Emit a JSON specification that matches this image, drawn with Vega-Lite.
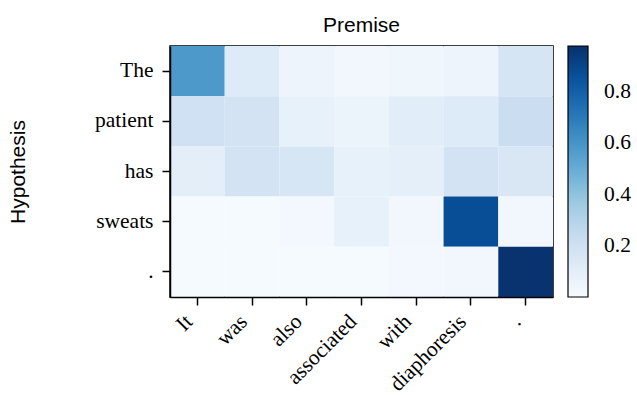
{
  "$schema": "https://vega.github.io/schema/vega-lite/v6.json",
  "width": 383,
  "height": 251,
  "autosize": {"type": "none"},
  "padding": {"left": 170, "top": 46, "right": 84, "bottom": 98},
  "background": "white",
  "config": {
    "view": {"stroke": "black", "strokeWidth": 1.5},
    "axis": {"grid": false},
    "legend": {"padding": 0, "labelFont": "Liberation Serif"}
  },
  "title": {"text": "Premise", "font": "Liberation Sans", "fontSize": 21, "fontWeight": "normal", "color": "black", "offset": 10},
  "data": {
    "values": [
      {"h": "The", "p": "It", "v": 0.58}, {"h": "The", "p": "was", "v": 0.13}, {"h": "The", "p": "also", "v": 0.05}, {"h": "The", "p": "associated", "v": 0.03}, {"h": "The", "p": "with", "v": 0.04}, {"h": "The", "p": "diaphoresis", "v": 0.05}, {"h": "The", "p": ".", "v": 0.17},
      {"h": "patient", "p": "It", "v": 0.2}, {"h": "patient", "p": "was", "v": 0.18}, {"h": "patient", "p": "also", "v": 0.08}, {"h": "patient", "p": "associated", "v": 0.06}, {"h": "patient", "p": "with", "v": 0.11}, {"h": "patient", "p": "diaphoresis", "v": 0.13}, {"h": "patient", "p": ".", "v": 0.22},
      {"h": "has", "p": "It", "v": 0.1}, {"h": "has", "p": "was", "v": 0.18}, {"h": "has", "p": "also", "v": 0.16}, {"h": "has", "p": "associated", "v": 0.08}, {"h": "has", "p": "with", "v": 0.09}, {"h": "has", "p": "diaphoresis", "v": 0.18}, {"h": "has", "p": ".", "v": 0.15},
      {"h": "sweats", "p": "It", "v": 0.01}, {"h": "sweats", "p": "was", "v": 0.01}, {"h": "sweats", "p": "also", "v": 0.02}, {"h": "sweats", "p": "associated", "v": 0.08}, {"h": "sweats", "p": "with", "v": 0.03}, {"h": "sweats", "p": "diaphoresis", "v": 0.87}, {"h": "sweats", "p": ".", "v": 0.03},
      {"h": ".", "p": "It", "v": 0.01}, {"h": ".", "p": "was", "v": 0.01}, {"h": ".", "p": "also", "v": 0.01}, {"h": ".", "p": "associated", "v": 0.01}, {"h": ".", "p": "with", "v": 0.02}, {"h": ".", "p": "diaphoresis", "v": 0.03}, {"h": ".", "p": ".", "v": 0.97}
    ]
  },
  "mark": {"type": "rect"},
  "encoding": {
    "x": {
      "field": "p", "type": "nominal",
      "sort": ["It", "was", "also", "associated", "with", "diaphoresis", "."],
      "scale": {"paddingInner": 0, "paddingOuter": 0},
      "axis": {
        "title": null, "labelAngle": -45, "labelAlign": "right", "labelBaseline": "bottom",
        "labelFont": "Liberation Serif", "labelFontSize": 21.5, "labelColor": "black",
        "tickColor": "black", "tickWidth": 1.5, "tickSize": 8, "labelPadding": 21,
        "domainColor": "black", "domainWidth": 1.5
      }
    },
    "y": {
      "field": "h", "type": "nominal",
      "sort": ["The", "patient", "has", "sweats", "."],
      "scale": {"paddingInner": 0, "paddingOuter": 0},
      "axis": {
        "title": "Hypothesis", "titleFont": "Liberation Sans", "titleFontSize": 21, "titleFontWeight": "normal", "titleColor": "black", "titlePadding": 66,
        "labelFont": "Liberation Serif", "labelFontSize": 21.5, "labelColor": "black",
        "tickColor": "black", "tickWidth": 1.5, "tickSize": 8, "labelPadding": 9,
        "domainColor": "black", "domainWidth": 1.5
      }
    },
    "color": {
      "field": "v", "type": "quantitative",
      "scale": {
        "domain": [0.0, 0.98],
        "range": ["#f7fbff", "#deebf7", "#c6dbef", "#9ecae1", "#6baed6", "#4292c6", "#2171b5", "#08519c", "#08306b"],
        "interpolate": "rgb"
      },
      "legend": {
        "title": null, "orient": "right", "offset": 15,
        "gradientLength": 251, "gradientThickness": 20,
        "gradientStrokeColor": "black", "gradientStrokeWidth": 1.2,
        "values": [0.2, 0.4, 0.6, 0.8],
        "labelFont": "Liberation Serif", "labelFontSize": 21.5, "labelColor": "black", "labelOffset": 16
      }
    }
  }
}
